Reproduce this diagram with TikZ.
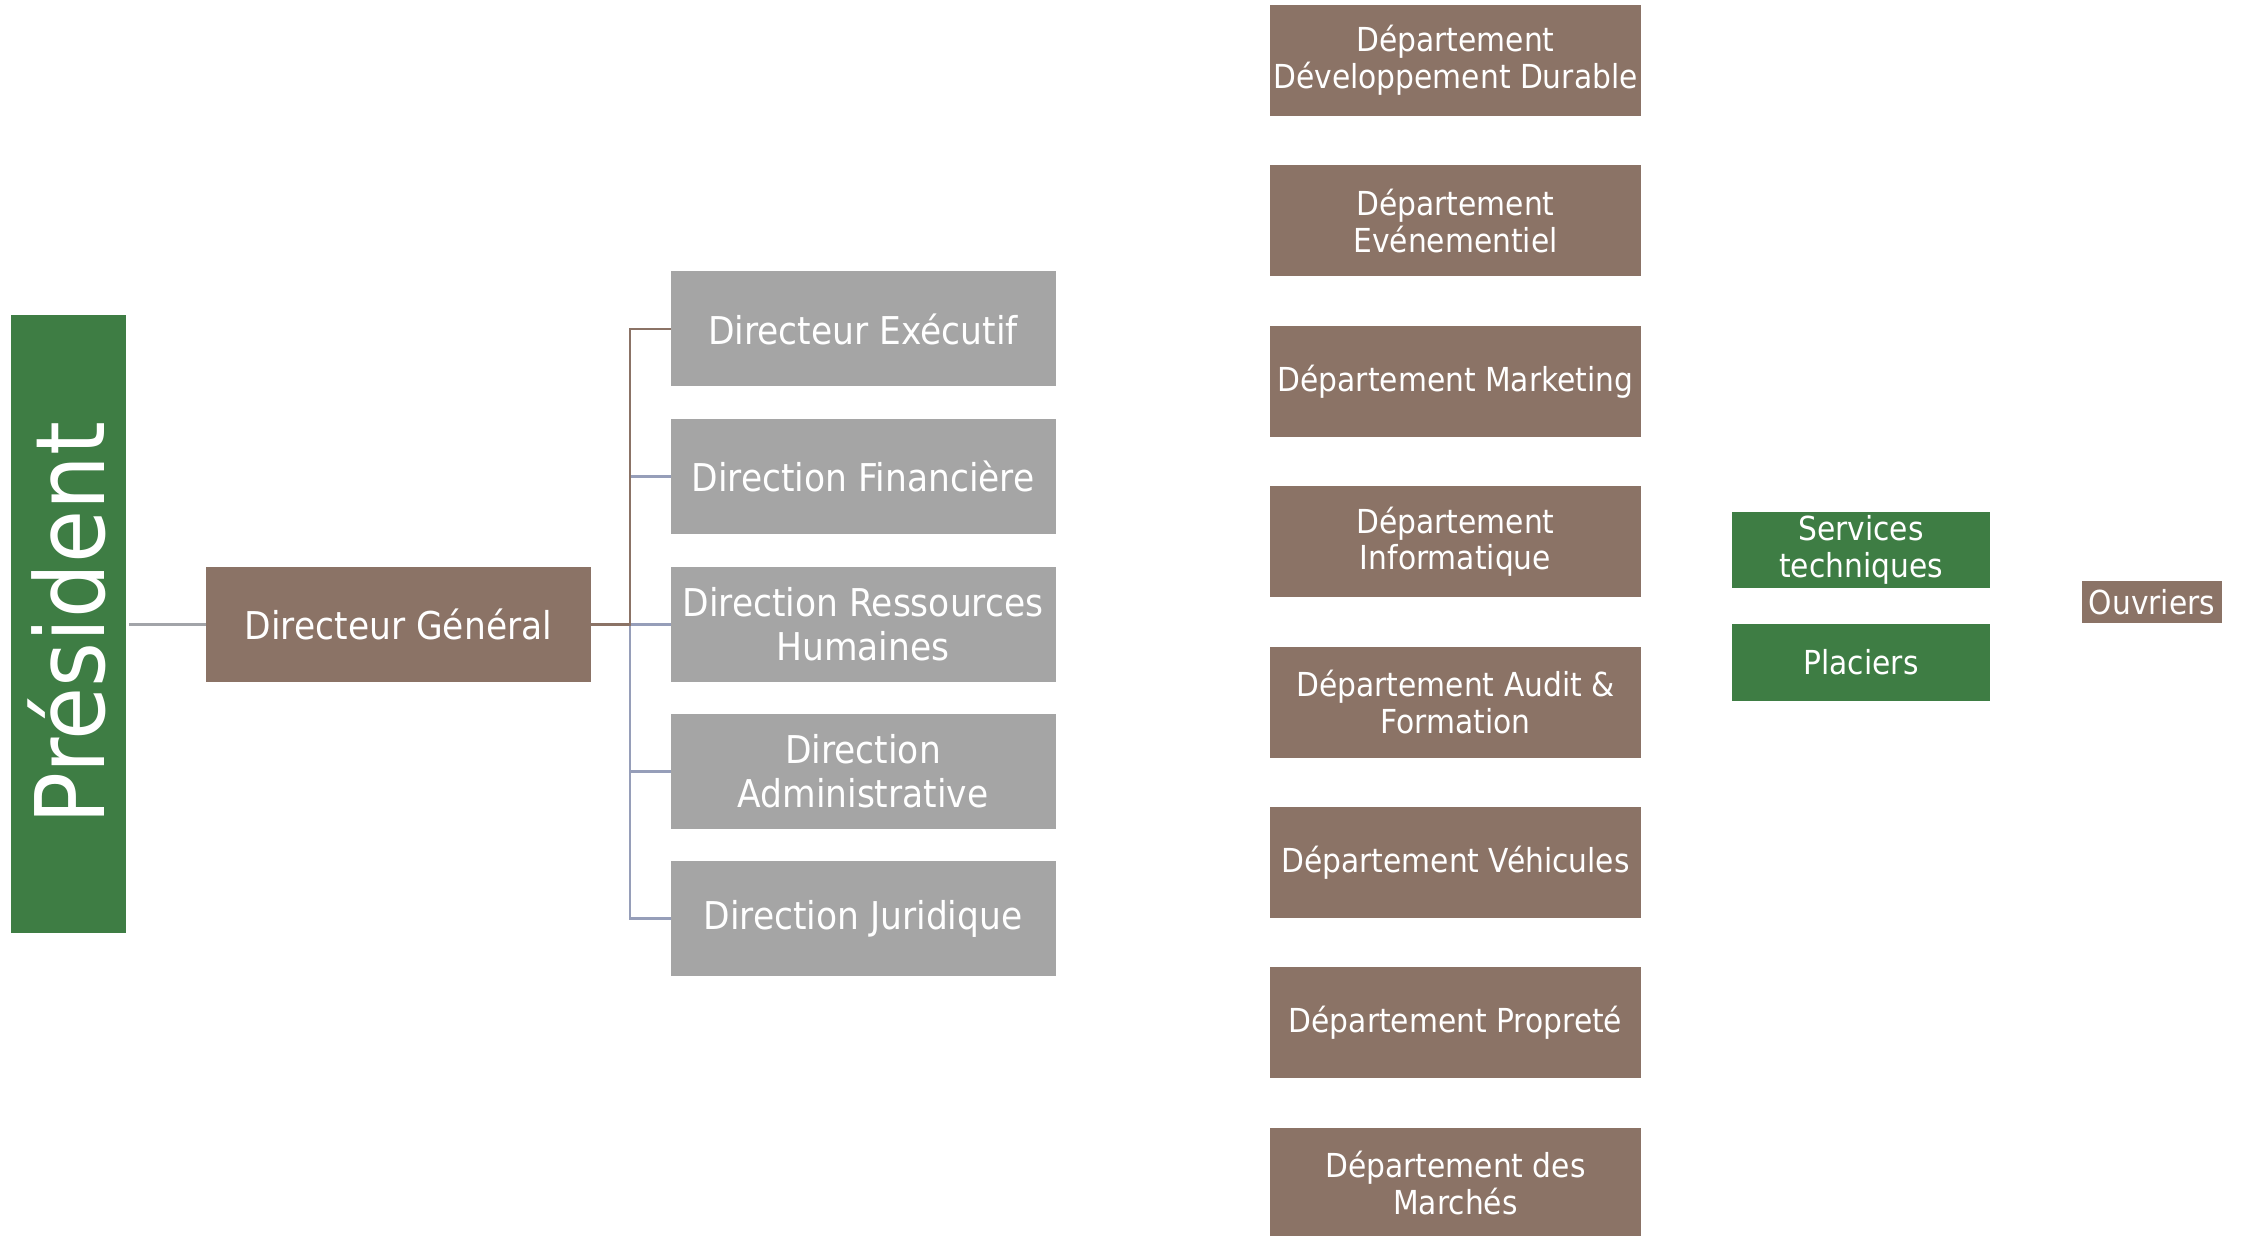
\documentclass[tikz,border=0pt]{standalone}
\usepackage{fontspec}
\setmainfont{DejaVu Sans}[FakeStretch=0.9]

\definecolor{orgbrown}{RGB}{139,115,102}
\definecolor{orggreen}{RGB}{62,125,68}
\definecolor{orggray}{RGB}{165,165,165}
\definecolor{orgblue}{RGB}{150,158,185}

\tikzset{
    % Box styles - flat fills, white text
    box/.style={inner sep=0pt, outer sep=0pt, text=white, align=center},
    box brown/.style={box, fill=orgbrown},
    box gray/.style={box, fill=orggray},
    box green/.style={box, fill=orggreen},
    % Sizes
    big box/.style={minimum width=3.85cm, minimum height=1.15cm,
        font=\fontsize{10.9}{12.6}\selectfont},
    dept box/.style={minimum width=3.71cm, minimum height=1.11cm,
        font=\fontsize{9.4}{10.5}\selectfont},
    % Connector styles
    link gray/.style={line width=0.8pt, orggray!80!orgblue},
    link brown/.style={line width=0.8pt, orgbrown},
    link blue/.style={line width=0.8pt, orgblue},
}

\begin{document}
\begin{tikzpicture}
    \path[fill=white,use as bounding box] (0,0) rectangle (22.5,12.35);

    % President and general director
    \node[box green, minimum width=1.15cm, minimum height=6.18cm] (pres) at (0.685,6.11) {};
    \node[text=white, rotate=90, font=\fontsize{27.3}{30}\selectfont] (prestext) at (0.665,6.12) {Président};
    \node[box brown, big box] (dg) at (3.985,6.105) {Directeur Général};
    \draw[link gray] ([xshift=0.03cm]pres.east |- dg.west) -- (dg.west);

    % Directions
    \node[box gray, big box] (exe) at (8.63,9.06) {Directeur Exécutif};
    \node[box gray, big box] (fin) at (8.63,7.585) {Direction Financière};
    \node[box gray, big box] (rh) at (8.63,6.105) {Direction Ressources\\Humaines};
    \node[box gray, big box] (adm) at (8.63,4.635) {Direction\\Administrative};
    \node[box gray, big box] (jur) at (8.63,3.165) {Direction Juridique};

    % Bracket
    \coordinate (fork) at (6.30,6.105);
    \draw[link blue] (dg.east) -- (fork) |- (fin.west);
    \draw[link blue] (dg.east) -- (fork) |- (rh.west);
    \draw[link blue] (dg.east) -- (fork) |- (adm.west);
    \draw[link blue] (dg.east) -- (fork) |- (jur.west);
    \draw[link brown] (dg.east) -- (fork) |- (exe.west);

    % Departments
    \node[box brown, dept box] (dd) at (14.555,11.745) {Département\\Développement Durable};
    \node[box brown, dept box] (ev) at (14.555,10.141) {Département\\Evénementiel};
    \node[box brown, dept box] (mk) at (14.555,8.537) {Département Marketing};
    \node[box brown, dept box] (inf) at (14.555,6.933) {Département\\Informatique};
    \node[box brown, dept box] (aud) at (14.555,5.329) {Département Audit \&\\Formation};
    \node[box brown, dept box] (veh) at (14.555,3.725) {Département Véhicules};
    \node[box brown, dept box] (pro) at (14.555,2.121) {Département Propreté};
    \node[box brown, dept box] (mar) at (14.555,0.517) {Département des\\Marchés};

    % Services
    \node[box green, dept box, minimum width=2.58cm, minimum height=0.765cm] (tech) at (18.61,6.85) {Services\\techniques};
    \node[box green, dept box, minimum width=2.58cm, minimum height=0.765cm] (plac) at (18.61,5.725) {Placiers};
    \node[box brown, dept box, minimum width=1.40cm, minimum height=0.415cm] (ouv) at (21.52,6.33) {Ouvriers};
\end{tikzpicture}
\end{document}
